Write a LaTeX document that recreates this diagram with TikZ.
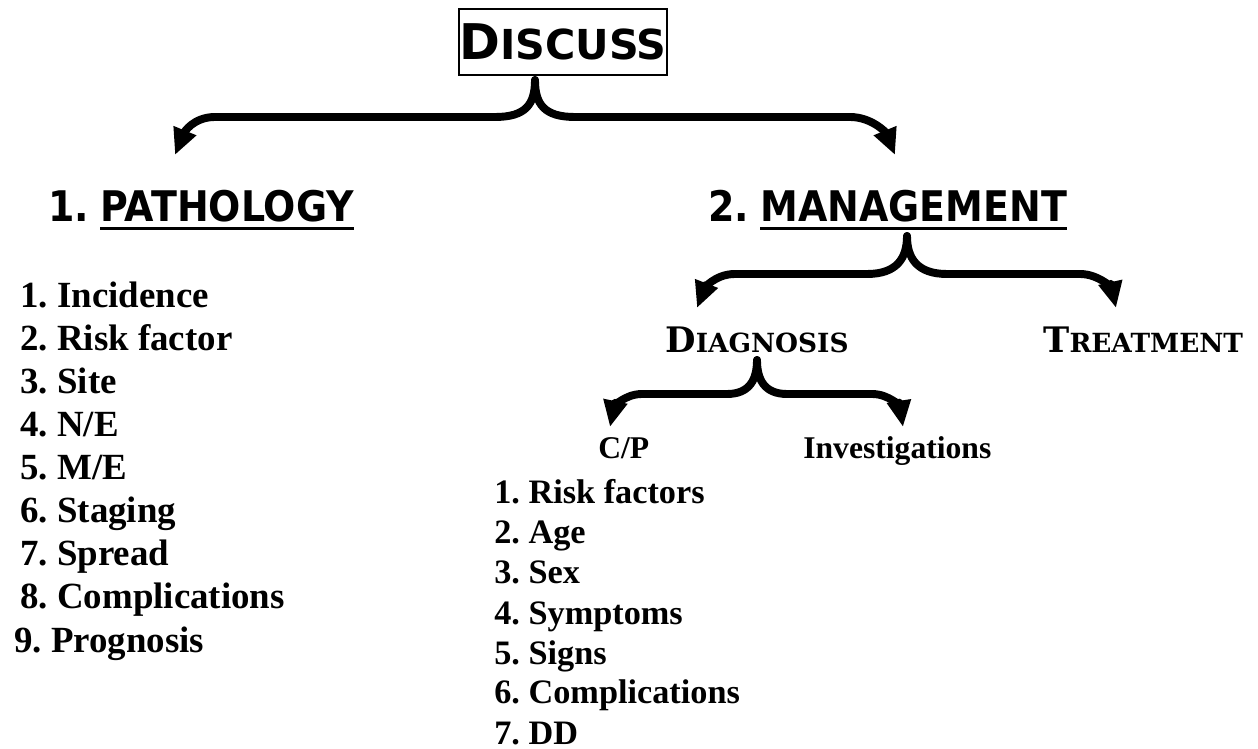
\documentclass[tikz,border=0pt]{standalone}
\usepackage{fontspec}
\setmainfont{Liberation Serif}
\newfontfamily\discfont{DejaVu Sans}
\newfontfamily\headfont{DejaVu Sans}[FakeStretch=0.9]
\newfontfamily\scfont{DejaVu Serif}
\usetikzlibrary{arrows.meta}
\frenchspacing

\tikzset{
  brc/.style={line width=4.5pt, line cap=round, -{Triangle[length=15pt,width=13pt]}},
  heading/.style={anchor=base west, inner sep=0pt, font=\headfont\bfseries\fontsize{24}{28}\selectfont},
  uline/.style={line width=2pt},
  sctext/.style={anchor=base west, inner sep=0pt, font=\scfont\bfseries},
  pitem/.style={anchor=base west, inner sep=0pt, font=\frenchspacing\bfseries\fontsize{21}{24}\selectfont},
  citem/.style={anchor=base west, inner sep=0pt, font=\frenchspacing\bfseries\fontsize{19.5}{22}\selectfont},
  subitem/.style={anchor=base west, inner sep=0pt, font=\bfseries\fontsize{18}{21}\selectfont},
}

\begin{document}
\begin{tikzpicture}[x=0.02cm, y=-0.02cm]
\useasboundingbox (0,0) rectangle (1258,749);

%%%%%%%%%% title
\node[draw, line width=1.2pt, inner sep=0pt, minimum width=4.08cm, minimum height=1.32cm,
      font=\discfont\bfseries] (discuss) at (563,42)
      {\fontsize{28}{30}\selectfont D\fontsize{23.5}{26}\selectfont ISCUSS};

%%%%%%%%%% headings
\node[heading] (pnum) at (48,222) {1.};
\node[heading] (path) at (100,222) {PATHOLOGY};
\draw[uline] ([yshift=-3.8pt]path.base west) -- ([yshift=-3.8pt]path.base east);

\node[heading] (mnum) at (708,222) {2.};
\node[heading] (mgmt) at (760,222) {MANAGEMENT};
\draw[uline] ([yshift=-3.8pt]mgmt.base west) -- ([yshift=-3.8pt]mgmt.base east);

%%%%%%%%%% first brace
\coordinate (b1) at (535,80);
\coordinate (tl1) at (175,155);
\coordinate (tr1) at (895,155);
\draw[brc] (b1) .. controls (535,105) and (525,117) .. (495,117) -- (215,117)
  .. controls (193,117) and (184,133) .. (tl1);
\draw[brc] (b1) .. controls (535,105) and (545,117) .. (575,117) -- (850,117)
  .. controls (872,117) and (886,133) .. (tr1);

%%%%%%%%%% pathology list
\foreach \t [count=\i] in {Incidence, Risk factor, Site, N/E, M/E, Staging, Spread, Complications}
  \node[pitem] (p\i) at (20,{308+43*(\i-1)}) {\i.\ \t};
\node[pitem] (p9) at (14,652) {9.\ Prognosis};

%%%%%%%%%% management brace
\coordinate (b2) at (907,236);
\coordinate (tl2) at (697,308);
\coordinate (tr2) at (1116,308);
\draw[brc] (b2) .. controls (907,258) and (897,274) .. (867,274) -- (735,274)
  .. controls (714,274) and (704,290) .. (tl2);
\draw[brc] (b2) .. controls (907,258) and (917,274) .. (947,274) -- (1080,274)
  .. controls (1100,274) and (1112,290) .. (tr2);

\node[sctext] (diag) at (665,353) {\fontsize{20}{24}\selectfont D\fontsize{15}{18}\selectfont IAGNOSIS};
\node[sctext] (treat) at (1043,353) {\fontsize{20}{24}\selectfont T\fontsize{15}{18}\selectfont REATMENT};

%%%%%%%%%% diagnosis brace
\coordinate (b3) at (757,360);
\coordinate (tl3) at (610,427);
\coordinate (tr3) at (903,427);
\draw[brc] (b3) .. controls (757,379) and (750,394) .. (727,394) -- (642,394)
  .. controls (624,394) and (614,408) .. (tl3);
\draw[brc] (b3) .. controls (757,379) and (764,394) .. (787,394) -- (872,394)
  .. controls (890,394) and (900,408) .. (tr3);

\node[subitem] (cp) at (598,459) {C/P};
\node[subitem] (inv) at (803,459) {Investigations};

%%%%%%%%%% clinical picture list
\foreach \t [count=\i] in {Risk factors, Age, Sex, Symptoms, Signs, Complications, DD}
  \node[citem] (c\i) at (494,{504+40*(\i-1)}) {\i.\ \t};

\end{tikzpicture}
\end{document}
